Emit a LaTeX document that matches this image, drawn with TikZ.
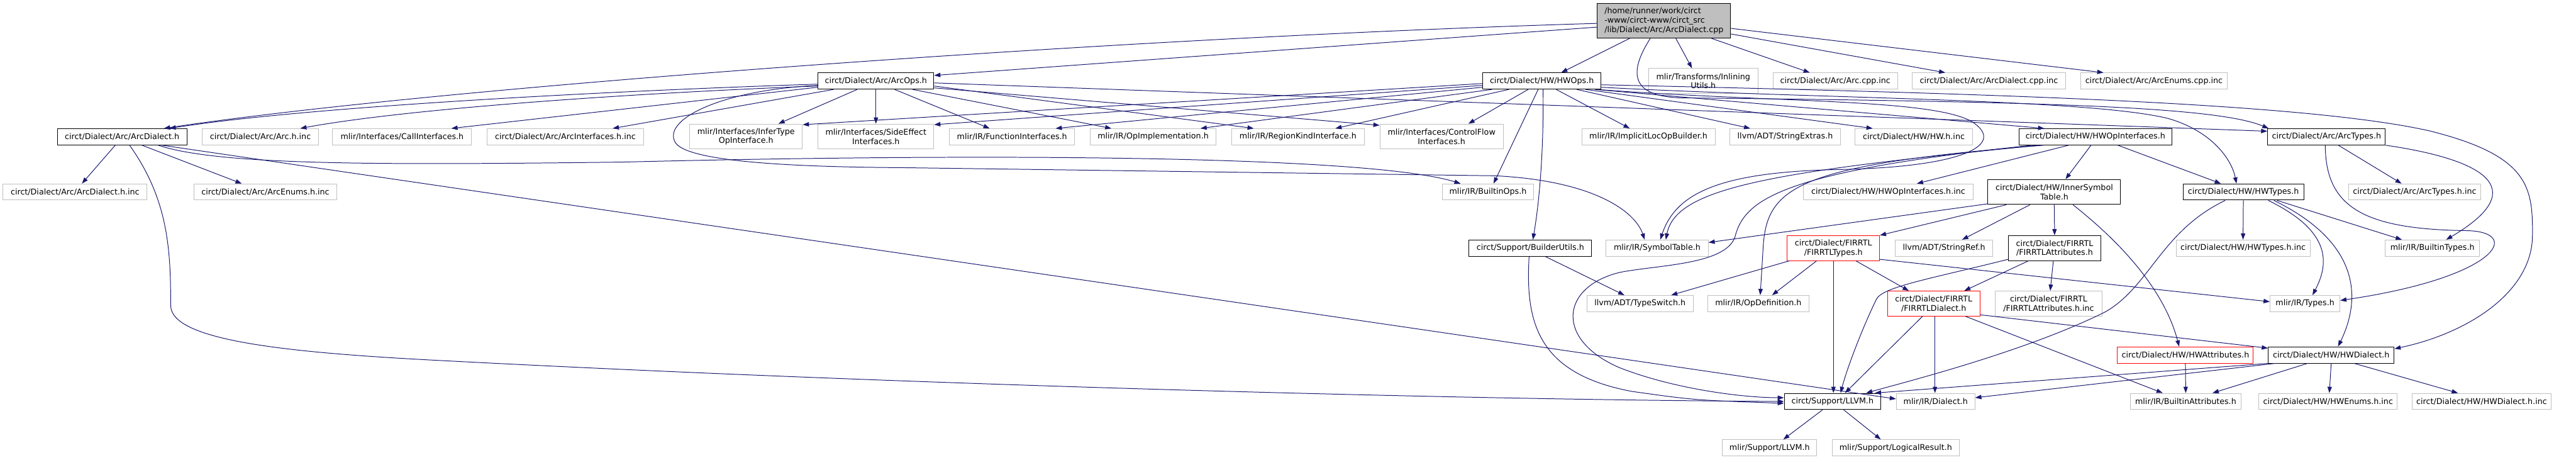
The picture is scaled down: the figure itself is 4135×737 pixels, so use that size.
\documentclass[tikz,border=0pt]{standalone}
\usepackage{fontspec}
\setmainfont{DejaVu Sans}
\usetikzlibrary{arrows.meta}
\definecolor{edgeblue}{HTML}{191970}
\definecolor{greyb}{HTML}{BFBFBF}
\definecolor{truncred}{HTML}{FF0000}
\definecolor{rootfill}{HTML}{BFBFBF}
\newcommand\mynode[7]{\node[#6,minimum width=#4pt,minimum height=#5pt] (#1) at (#2,#3) {#7};}
\begin{document}
\begin{tikzpicture}[x=1pt,y=-1pt,
  box/.style={draw, rectangle, inner sep=0pt, line width=1pt, font=\fontsize{12.8}{15}\selectfont, align=center},
  doc/.style={box, draw=black},
  ext/.style={box, draw=greyb},
  trunc/.style={box, draw=truncred},
  rootnode/.style={box, draw=black, fill=rootfill, align=left},
  conn/.style={draw=edgeblue, line width=1pt, -{Triangle[length=10pt,width=7pt]}}]
\fill[white] (0,0) rectangle (4135,737);
\useasboundingbox (0,0) rectangle (4135,737);
% row 0
\mynode{root}{2671}{33.5}{214}{55}{rootnode}{/home/runner/work/circt\\-www/circt-www/circt\_src\\/lib/Dialect/Arc/ArcDialect.cpp}
% row 1
\mynode{arcops}{1406}{130}{186}{26}{doc}{circt/Dialect/Arc/ArcOps.h}
\mynode{hwops}{2475}{130}{190}{26}{doc}{circt/Dialect/HW/HWOps.h}
\mynode{inlining}{2734}{130}{176}{40}{ext}{mlir/Transforms/Inlining\\Utils.h}
\mynode{arccppinc}{2946}{130}{200}{26}{ext}{circt/Dialect/Arc/Arc.cpp.inc}
\mynode{arcdialectcppinc}{3192.5}{130}{247}{26}{ext}{circt/Dialect/Arc/ArcDialect.cpp.inc}
\mynode{arcenumscppinc}{3457.5}{130}{235}{26}{ext}{circt/Dialect/Arc/ArcEnums.cpp.inc}
% row 2
\mynode{arcdialecth}{196}{219.5}{208}{26}{doc}{circt/Dialect/Arc/ArcDialect.h}
\mynode{archinc}{418}{219.5}{186}{26}{ext}{circt/Dialect/Arc/Arc.h.inc}
\mynode{callif}{645.5}{219.5}{223}{26}{ext}{mlir/Interfaces/CallInterfaces.h}
\mynode{arcifinc}{907.5}{219.5}{251}{26}{ext}{circt/Dialect/Arc/ArcInterfaces.h.inc}
\mynode{infertype}{1197.5}{219}{181}{40}{ext}{mlir/Interfaces/InferType\\OpInterface.h}
\mynode{sideeffect}{1406}{219}{186}{40}{ext}{mlir/Interfaces/SideEffect\\Interfaces.h}
\mynode{funcif}{1624.5}{219.5}{201}{26}{ext}{mlir/IR/FunctionInterfaces.h}
\mynode{opimpl}{1851}{219.5}{202}{26}{ext}{mlir/IR/OpImplementation.h}
\mynode{regionkind}{2083.5}{219.5}{213}{26}{ext}{mlir/IR/RegionKindInterface.h}
\mynode{controlflow}{2314}{219}{198}{40}{ext}{mlir/Interfaces/ControlFlow\\Interfaces.h}
\mynode{implicitloc}{2646}{219.5}{214}{26}{ext}{mlir/IR/ImplicitLocOpBuilder.h}
\mynode{stringextras}{2865.5}{219.5}{177}{26}{ext}{llvm/ADT/StringExtras.h}
\mynode{hwhinc}{3072}{219.5}{188}{26}{ext}{circt/Dialect/HW/HW.h.inc}
\mynode{hwopif}{3363.5}{219.5}{245}{26}{doc}{circt/Dialect/HW/HWOpInterfaces.h}
\mynode{arctypes}{3734.5}{219.5}{189}{26}{doc}{circt/Dialect/Arc/ArcTypes.h}
% row 3
\mynode{arcdialecthinc}{120.5}{308}{231}{26}{ext}{circt/Dialect/Arc/ArcDialect.h.inc}
\mynode{arcenumshinc}{426}{308}{230}{26}{ext}{circt/Dialect/Arc/ArcEnums.h.inc}
\mynode{builtinops}{2388.5}{308}{147}{26}{ext}{mlir/IR/BuiltinOps.h}
\mynode{hwopifinc}{3031}{308}{272}{26}{ext}{circt/Dialect/HW/HWOpInterfaces.h.inc}
\mynode{innersym}{3297.5}{308}{213}{40}{doc}{circt/Dialect/HW/InnerSymbol\\Table.h}
\mynode{hwtypes}{3601}{308}{194}{26}{doc}{circt/Dialect/HW/HWTypes.h}
\mynode{arctypeshinc}{3876}{308}{212}{26}{ext}{circt/Dialect/Arc/ArcTypes.h.inc}
% row 4
\mynode{builderutils}{2456.5}{398}{197}{26}{doc}{circt/Support/BuilderUtils.h}
\mynode{symboltable}{2660}{398}{164}{26}{ext}{mlir/IR/SymbolTable.h}
\mynode{firrtltypes}{2943}{398}{148}{40}{trunc}{circt/Dialect/FIRRTL\\/FIRRTLTypes.h}
\mynode{stringref}{3120.5}{398}{157}{26}{ext}{llvm/ADT/StringRef.h}
\mynode{firrtlattr}{3298}{398}{148}{40}{doc}{circt/Dialect/FIRRTL\\/FIRRTLAttributes.h}
\mynode{hwtypeshinc}{3600.5}{398}{215}{26}{ext}{circt/Dialect/HW/HWTypes.h.inc}
\mynode{builtintypes}{3904.5}{398}{151}{26}{ext}{mlir/IR/BuiltinTypes.h}
% row 5
\mynode{typeswitch}{2632.5}{487}{171}{26}{ext}{llvm/ADT/TypeSwitch.h}
\mynode{opdef}{2822.5}{487}{163}{26}{ext}{mlir/IR/OpDefinition.h}
\mynode{firrtldialect}{3104}{487}{148}{40}{trunc}{circt/Dialect/FIRRTL\\/FIRRTLDialect.h}
\mynode{firrtlattrinc}{3288.5}{487}{171}{40}{ext}{circt/Dialect/FIRRTL\\/FIRRTLAttributes.h.inc}
\mynode{types}{3700}{487}{112}{26}{ext}{mlir/IR/Types.h}
% row 6
\mynode{hwattr}{3508}{569.5}{218}{26}{trunc}{circt/Dialect/HW/HWAttributes.h}
\mynode{hwdialect}{3742}{569.5}{202}{26}{doc}{circt/Dialect/HW/HWDialect.h}
% row 7
\mynode{llvmh}{2941.5}{644}{155}{26}{doc}{circt/Support/LLVM.h}
\mynode{dialecth}{3107}{644}{126}{26}{ext}{mlir/IR/Dialect.h}
\mynode{builtinattr}{3508.5}{644}{177}{26}{ext}{mlir/IR/BuiltinAttributes.h}
\mynode{hwenumsinc}{3737}{644}{222}{26}{ext}{circt/Dialect/HW/HWEnums.h.inc}
\mynode{hwdialecthinc}{3983.5}{644}{223}{26}{ext}{circt/Dialect/HW/HWDialect.h.inc}
% row 8
\mynode{mlirllvm}{2840.5}{718.5}{151}{26}{ext}{mlir/Support/LLVM.h}
\mynode{logicalresult}{3043}{718.5}{204}{26}{ext}{mlir/Support/LogicalResult.h}

% ---- edges from root
\draw[conn] ([yshift=-4pt]root.west) .. controls (1800,60) and (700,140) .. ([xshift=67pt]arcdialecth.north);
\draw[conn] ([yshift=-10pt]root.west) -- ([yshift=9pt]arcops.east);
\draw[conn] ([xshift=-55pt]root.south) -- ([xshift=31pt]hwops.north);
\draw[conn] ([xshift=19pt]root.south) -- ([xshift=-18pt]inlining.north);
\draw[conn] ([xshift=76pt]root.south) -- ([xshift=-41pt]arccppinc.north);
\draw[conn] ([yshift=-21pt]root.east) -- ([xshift=-70pt]arcdialectcppinc.north);
\draw[conn] ([yshift=-12pt]root.east) -- ([xshift=-81pt]arcenumscppinc.north);
\draw[conn] ([xshift=-22pt]root.south) .. controls (2615,115) and (2615,155) .. (2700,157) .. controls (3300,163) and (3560,172) .. ([xshift=-93pt]arctypes.north);

% ---- edges from ArcOps
\draw[conn] ([yshift=-5pt]arcops.west) .. controls (1000,145) and (500,170) .. ([xshift=76pt]arcdialecth.north);
\draw[conn] ([yshift=-8pt]arcops.west) .. controls (1000,150) and (650,175) .. ([xshift=64pt]archinc.north);
\draw[conn] ([yshift=-10pt]arcops.west) -- ([xshift=79pt]callif.north);
\draw[conn] ([xshift=-68pt]arcops.south) -- ([xshift=76pt]arcifinc.north);
\draw[conn] ([xshift=-30pt]arcops.south) -- ([xshift=52pt]infertype.north);
\draw[conn] (arcops.south) -- (sideeffect.north);
\draw[conn] ([xshift=30pt]arcops.south) -- ([xshift=-36pt]funcif.north);
\draw[conn] ([xshift=59pt]arcops.south) -- ([xshift=-67pt]opimpl.north);
\draw[conn] ([yshift=-8pt]arcops.east) -- ([xshift=-71pt]regionkind.north);
\draw[conn] ([yshift=-11pt]arcops.east) -- ([yshift=18pt]controlflow.west);
\draw[conn] ([yshift=-3pt]arcops.east) -- ([yshift=9pt]arctypes.west);
\draw[conn] ([yshift=-7pt]arcops.west) .. controls (1150,145) and (1060,195) .. (1085,230) .. controls (1110,262) and (1300,268) .. (1450,269) -- (2400,282) .. controls (2560,290) and (2625,340) .. ([xshift=-20pt]symboltable.north);

% ---- edges from ArcDialect.h
\draw[conn] ([xshift=-11pt]arcdialecth.south) -- ([xshift=11pt]arcdialecthinc.north);
\draw[conn] ([xshift=32pt]arcdialecth.south) -- ([xshift=-38pt]arcenumshinc.north);
\draw[conn] ([xshift=12pt]arcdialecth.south) .. controls (270,320) and (274,400) .. (274,490) .. controls (274,545) and (450,565) .. (700,578) .. controls (1500,620) and (2400,642) .. (llvmh.west);
\draw[conn] ([xshift=58pt]arcdialecth.south) .. controls (350,265) and (600,265) .. (1000,260) .. controls (1600,245) and (2200,250) .. ([xshift=-44pt]builtinops.north);
\draw[conn] ([xshift=64pt]arcdialecth.south) -- ([yshift=4pt]dialecth.west);

% ---- edges from HWOps
\draw[conn] ([yshift=-4pt]hwops.west) -- ([yshift=19pt]infertype.east);
\draw[conn] ([yshift=-7pt]hwops.west) -- ([yshift=19pt]sideeffect.east);
\draw[conn] ([yshift=-10pt]hwops.west) -- ([xshift=70pt]funcif.north);
\draw[conn] ([xshift=-80pt]hwops.south) -- ([xshift=76pt]opimpl.north);
\draw[conn] ([xshift=-53pt]hwops.south) -- ([xshift=60pt]regionkind.north);
\draw[conn] ([xshift=-22pt]hwops.south) -- ([xshift=43pt]controlflow.north);
\draw[conn] ([xshift=-6pt]hwops.south) -- ([xshift=9pt]builtinops.north);
\draw[conn] ([xshift=2pt]hwops.south) .. controls (2478,250) and (2470,330) .. ([xshift=4pt]builderutils.north);
\draw[conn] ([xshift=23pt]hwops.south) -- ([xshift=-30pt]implicitloc.north);
\draw[conn] ([xshift=56pt]hwops.south) -- ([xshift=-56pt]stringextras.north);
\draw[conn] ([xshift=70pt]hwops.south) -- ([xshift=-66pt]hwhinc.north);
\draw[conn] ([xshift=85pt]hwops.south) -- ([xshift=-82pt]hwopif.north);
\draw[conn] ([yshift=-10pt]hwops.east) .. controls (2900,158) and (3350,158) .. (3480,190) .. controls (3550,210) and (3582,255) .. ([xshift=-11pt]hwtypes.north);
\draw[conn] ([yshift=-6pt]hwops.east) .. controls (3200,150) and (3700,165) .. (3900,210) .. controls (4060,250) and (4066,300) .. (4065,380) .. controls (4063,470) and (3960,535) .. ([yshift=10pt]hwdialect.east);
\draw[conn] ([xshift=88pt]hwops.south) .. controls (2850,165) and (3100,158) .. (3165,195) .. controls (3220,230) and (3160,268) .. (2950,272) .. controls (2760,276) and (2690,310) .. ([xshift=5pt]symboltable.north);

% ---- edges from HWOpInterfaces
\draw[conn] ([xshift=-43pt]hwopif.south) -- ([xshift=46pt]hwopifinc.north);
\draw[conn] ([xshift=-7pt]hwopif.south) -- ([xshift=18pt]innersym.north);
\draw[conn] ([xshift=36pt]hwopif.south) -- ([xshift=-36pt]hwtypes.north);
\draw[conn] ([xshift=-90pt]hwopif.south) .. controls (2850,275) and (2690,300) .. ([xshift=14pt]symboltable.north);
\draw[conn] ([xshift=-101pt]hwopif.south) .. controls (2860,275) and (2800,320) .. (2785,380) .. controls (2770,425) and (2660,425) .. (2600,437) .. controls (2505,460) and (2495,545) .. (2600,590) .. controls (2690,625) and (2800,638) .. ([yshift=6pt]llvmh.west);
\draw[conn] ([xshift=-83pt]hwopif.south) .. controls (2880,265) and (2835,300) .. (2830,400) -- ([xshift=3pt]opdef.north);

% ---- edges from InnerSymbolTable
\draw[conn] ([yshift=-19pt]innersym.west) -- ([yshift=9pt]symboltable.east);
\draw[conn] ([xshift=-77pt]innersym.south) -- (firrtltypes.north east);
\draw[conn] ([xshift=-39pt]innersym.south) -- ([xshift=29pt]stringref.north);
\draw[conn] (innersym.south) -- (firrtlattr.north);
\draw[conn] ([xshift=30pt]innersym.south) .. controls (3380,370) and (3470,450) .. ([xshift=-10pt]hwattr.north);

% ---- edges from HWTypes
\draw[conn] ([xshift=-29pt]hwtypes.south) .. controls (3470,370) and (3450,460) .. (3380,500) .. controls (3250,565) and (3050,615) .. ([xshift=54pt]llvmh.north);
\draw[conn] (hwtypes.south) -- (hwtypeshinc.north);
\draw[conn] ([xshift=40pt]hwtypes.south) .. controls (3740,370) and (3740,420) .. ([xshift=12pt]types.north);
\draw[conn] ([xshift=49pt]hwtypes.south) .. controls (3790,390) and (3790,480) .. ([xshift=11pt]hwdialect.north);
\draw[conn] ([xshift=54pt]hwtypes.south) -- ([xshift=-49pt]builtintypes.north);

% ---- edges from ArcTypes
\draw[conn] ([xshift=19pt]arctypes.south) -- ([xshift=-21pt]arctypeshinc.north);
\draw[conn] ([xshift=-2pt]arctypes.south) .. controls (3733,330) and (3790,368) .. (3960,370) .. controls (4050,372) and (4010,445) .. ([yshift=5pt]types.east);
\draw[conn] (arctypes.south east) .. controls (3980,255) and (4070,300) .. ([xshift=22pt]builtintypes.north);

% ---- edges from BuilderUtils
\draw[conn] ([xshift=24pt]builderutils.south) -- ([xshift=-25pt]typeswitch.north);
\draw[conn] ([xshift=-2pt]builderutils.south) .. controls (2448,520) and (2470,600) .. (2620,628) .. controls (2720,642) .. ([yshift=-3pt]llvmh.west);

% ---- edges from FIRRTLTypes
\draw[conn] ([xshift=-71pt]firrtltypes.south) -- ([xshift=50pt]typeswitch.north);
\draw[conn] ([xshift=-27pt]firrtltypes.south) -- ([xshift=22pt]opdef.north);
\draw[conn] (firrtltypes.south) -- ([xshift=1.5pt]llvmh.north);
\draw[conn] ([xshift=36pt]firrtltypes.south) -- ([xshift=-40pt]firrtldialect.north);
\draw[conn] ([yshift=-18pt]firrtltypes.east) -- ([yshift=3pt]types.west);

% ---- edges from FIRRTLAttributes
\draw[conn] ([yshift=-18pt]firrtlattr.west) .. controls (3100,447) and (3022,460) .. (3012,480) .. controls (2990,525) and (2965,590) .. ([xshift=13pt]llvmh.north);
\draw[conn] ([xshift=-42pt]firrtlattr.south) -- ([xshift=49pt]firrtldialect.north);
\draw[conn] ([xshift=-2pt]firrtlattr.south) -- ([xshift=2.5pt]firrtlattrinc.north);

% ---- edges from FIRRTLDialect
\draw[conn] ([xshift=-18pt]firrtldialect.south) -- ([xshift=20pt]llvmh.north);
\draw[conn] ([xshift=2pt]firrtldialect.south) -- ([xshift=-1pt]dialecth.north);
\draw[conn] ([yshift=-18pt]firrtldialect.east) -- ([yshift=11pt]hwdialect.west);
\draw[conn] ([xshift=51pt]firrtldialect.south) -- ([xshift=-37pt]builtinattr.north);

% ---- edges from HWAttributes
\draw[conn] (hwattr.south) -- (builtinattr.north);

% ---- edges from HWDialect
\draw[conn] (hwdialect.south west) -- ([xshift=68pt]llvmh.north);
\draw[conn] ([xshift=-90pt]hwdialect.south) -- ([yshift=6pt]dialecth.east);
\draw[conn] ([xshift=-38pt]hwdialect.south) -- ([xshift=43pt]builtinattr.north);
\draw[conn] (hwdialect.south) -- ([xshift=2pt]hwenumsinc.north);
\draw[conn] ([xshift=37pt]hwdialect.south) -- ([xshift=-38pt]hwdialecthinc.north);

% ---- edges from LLVM.h
\draw[conn] ([xshift=-16pt]llvmh.south) -- ([xshift=22pt]mlirllvm.north);
\draw[conn] ([xshift=18pt]llvmh.south) -- ([xshift=-24pt]logicalresult.north);
\end{tikzpicture}
\end{document}
